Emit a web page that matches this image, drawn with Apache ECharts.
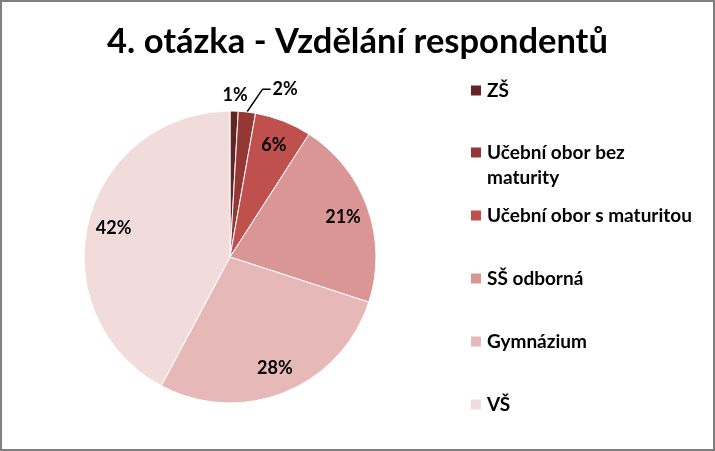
<!DOCTYPE html>
<html><head><meta charset="utf-8">
<script src="https://cdn.jsdelivr.net/npm/echarts@6/dist/echarts.min.js"></script>
<style>
html,body{margin:0;padding:0;background:#fff}
#wrap{position:relative;width:715px;height:451px}
#c{width:715px;height:451px}
#f{position:absolute;left:0;top:0;width:715px;height:451px;box-sizing:border-box;border:2px solid #7f7f7f;pointer-events:none}
</style>
</head><body>
<div id="wrap"><div id="c"></div><div id="f"></div></div>
<script>
const titleText = '4. otázka - Vzdělání respondentů';
const categories = ['ZŠ', 'Učební obor bez maturity', 'Učební obor s maturitou', 'SŠ odborná', 'Gymnázium', 'VŠ'];
const legendText = ['ZŠ', 'Učební obor bez\nmaturity', 'Učební obor s maturitou', 'SŠ odborná', 'Gymnázium', 'VŠ'];
const shares = [0.9, 1.9, 6.3, 20.9, 27.8, 42.2];
const colors = ['#632523', '#953735', '#C0504D', '#D99694', '#E6B9B8', '#F2DCDB'];

const FONT = 'Lato';
const CENTER = [230, 257];
const R = 146;

const chart = echarts.init(document.getElementById('c'), null, {renderer: 'canvas'});

const pieData = categories.map((n, i) => ({name: n, value: shares[i], itemStyle: {color: colors[i]}}));
const labelData = categories.map((n, i) => {
  const d = {name: n, value: shares[i]};
  if (i === 0) {
    d.label = {position: 'outside'};
    d.labelLine = {show: false, length: 16, length2: -17};
  } else if (i === 1) {
    d.label = {position: 'outside', distanceToLabelLine: 2};
    d.labelLine = {show: true, length: 23, length2: 21};
  }
  return d;
});

const legendCenter0 = 90, legendStep = 62.8, LH = 25;
const legends = categories.map((n, i) => {
  const multi = legendText[i].indexOf('\n') >= 0;
  return {
    data: [n],
    orient: 'vertical',
    left: 469,
    top: Math.round(legendCenter0 + i * legendStep - (multi ? LH * 1.5 : LH / 2)),
    padding: 0,
    itemGap: 0,
    itemWidth: 12,
    itemHeight: 12,
    icon: 'rect',
    selectedMode: false,
    // leading empty line keeps the first text line level with the icon
    formatter: () => (multi ? '\n' : '') + legendText[i],
    textStyle: {fontFamily: FONT, fontSize: 19, fontWeight: 'bold', color: '#000', lineHeight: LH}
  };
});

chart.setOption({
  backgroundColor: '#fff',
  animation: false,
  title: {
    text: titleText, left: 'center', top: 24, padding: 0,
    textStyle: {fontFamily: FONT, fontSize: 34.5, fontWeight: 'bold', color: '#000'}
  },
  legend: legends,
  series: [
    {
      type: 'pie', center: CENTER, radius: R, startAngle: 90, clockwise: true,
      data: pieData, label: {show: false}, labelLine: {show: false},
      itemStyle: {borderColor: '#fff', borderWidth: 1},
      emphasis: {disabled: true}
    },
    {
      type: 'pie', center: CENTER, radius: [88, R], startAngle: 90, clockwise: true,
      data: labelData, silent: true, legendHoverLink: false,
      avoidLabelOverlap: false, percentPrecision: 0,
      itemStyle: {color: 'rgba(0,0,0,0)', borderWidth: 0},
      label: {show: true, position: 'inside', formatter: '{d}%', color: '#000',
        fontFamily: FONT, fontSize: 18, fontWeight: 'bold', distanceToLabelLine: 5},
      labelLine: {lineStyle: {color: '#000', width: 1.5}},
      labelLayout: function (params) {
        const pts = params.labelLinePoints;
        if (params.dataIndex === 1 && pts && pts.length === 3) {
          return {labelLinePoints: [pts[0], [pts[2][0] - 8, pts[2][1]], pts[2]]};
        }
        return {};
      },
      emphasis: {disabled: true}
    }
  ]
});
</script>
</body></html>
